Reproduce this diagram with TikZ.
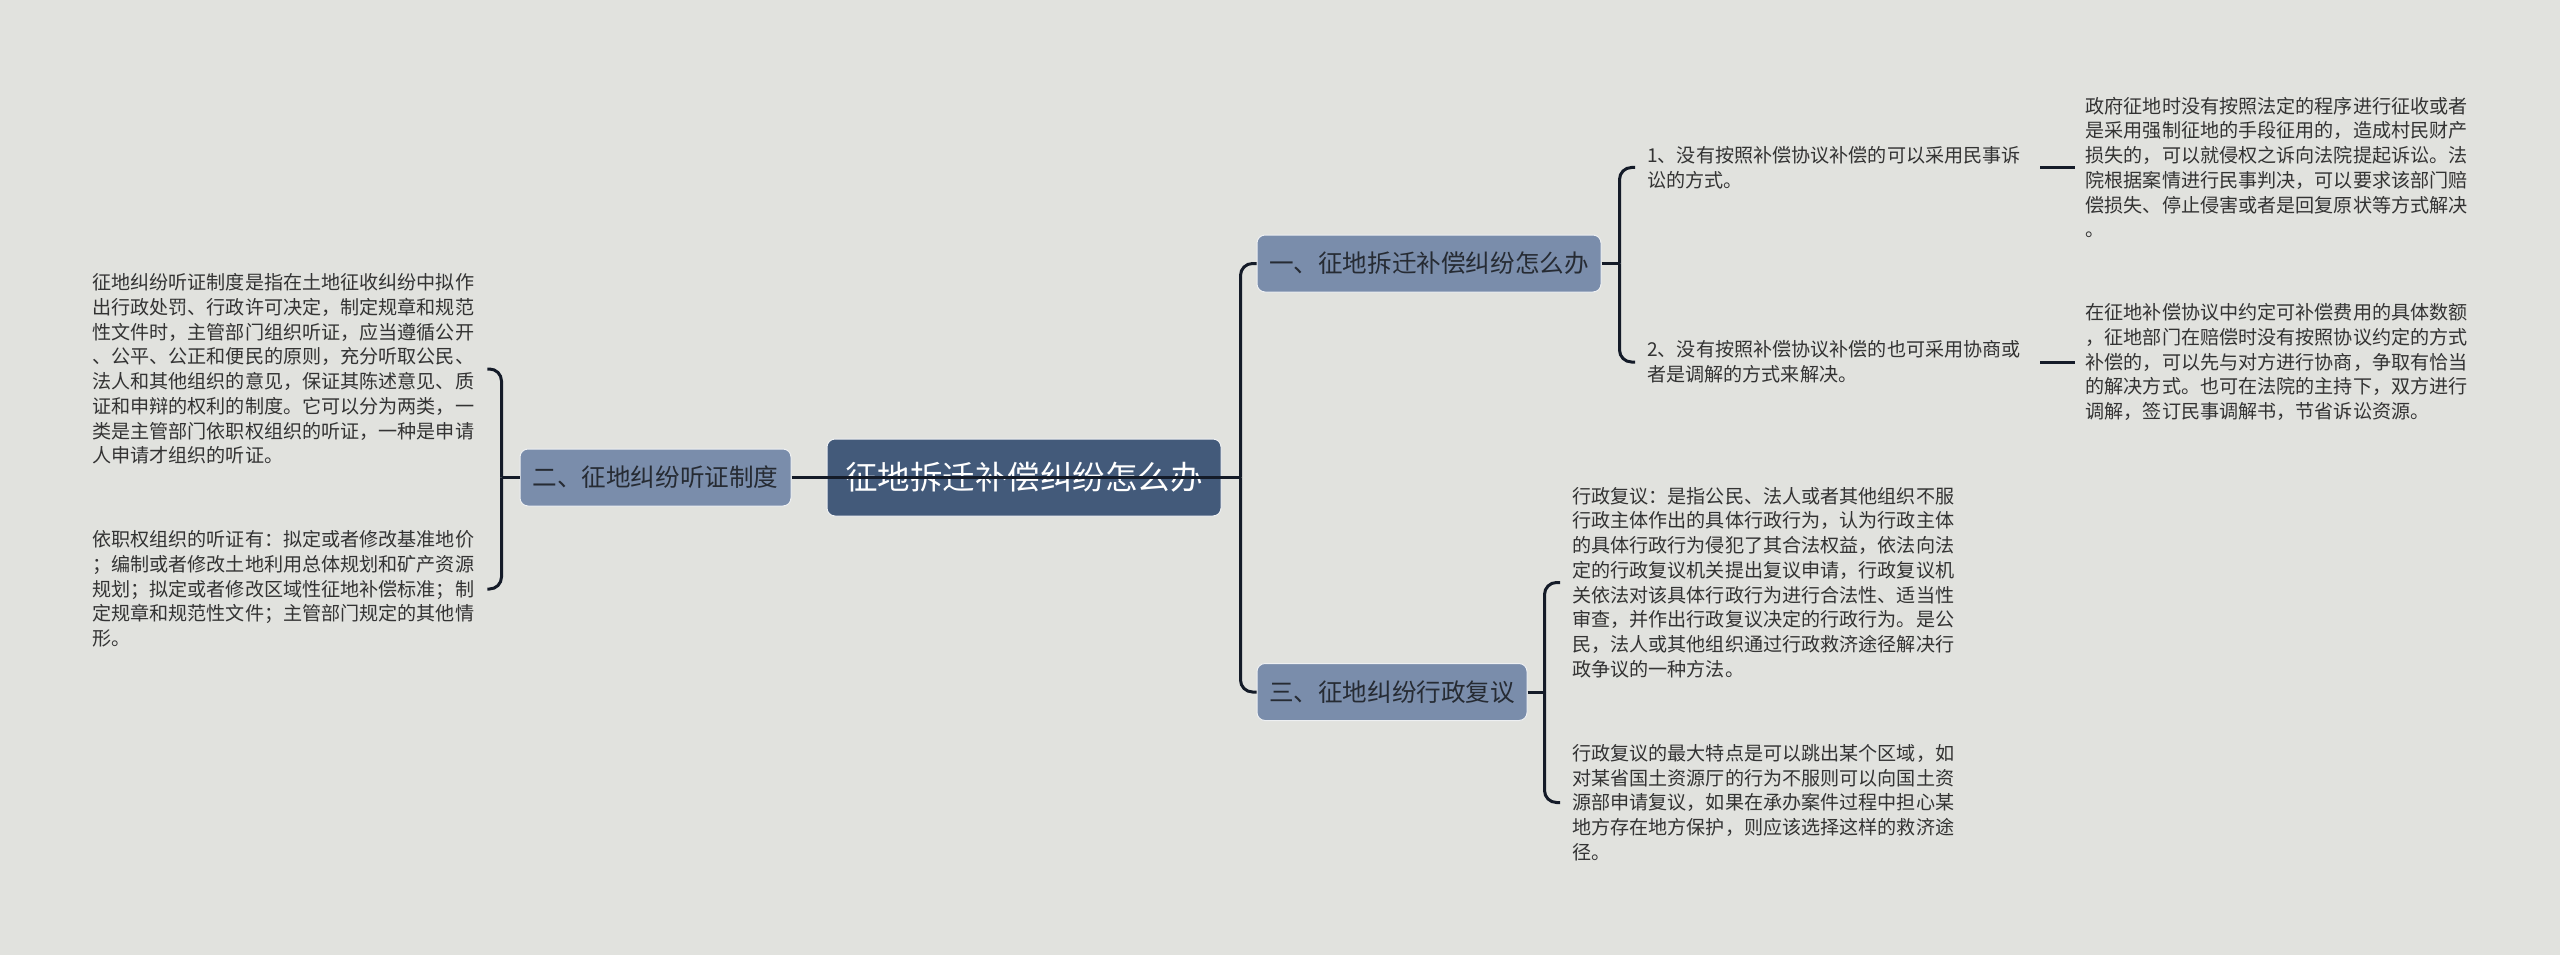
\documentclass[tikz,border=0pt]{standalone}
\usepackage{fontspec}
\newfontfamily\cjk{Noto Sans CJK SC}
\definecolor{bgc}{HTML}{E1E2DE}
\definecolor{rootc}{HTML}{435A7A}
\definecolor{subc}{HTML}{7A8DAB}
\definecolor{linec}{HTML}{141B28}
\definecolor{textc}{HTML}{333333}
\definecolor{subtext}{HTML}{262B33}
\definecolor{edgec}{HTML}{EEF0F2}
\tikzset{
  rootnode/.style={fill=rootc, draw=edgec, line width=1pt, rounded corners=8pt, inner sep=0pt,
    minimum width=394pt, minimum height=77pt, text=white,
    font=\cjk\fontsize{32.5pt}{36pt}\selectfont},
  subnode/.style={fill=subc, draw=edgec, line width=1pt, rounded corners=8pt, inner sep=0pt,
    minimum height=57pt, text=subtext, font=\cjk\fontsize{24.6pt}{28pt}\selectfont},
  txt/.style={anchor=west, inner sep=0pt, text width=385pt, align=left, text=textc,
    font=\cjk\fontsize{19.1pt}{24.7pt}\selectfont},
  conn/.style={draw=linec, line width=3pt, rounded corners=12pt}
}
\begin{document}
\begin{tikzpicture}[x=1pt,y=-1pt]
\fill[bgc] (0,0) rectangle (2560,955);
\useasboundingbox (0,0) rectangle (2560,955);

% nodes
\node[rootnode] (root) at (1024,477.5) {征地拆迁补偿纠纷怎么办};
\node[subnode, minimum width=271pt] (n2) at (655.5,477.5) {二、征地纠纷听证制度};
\node[subnode, minimum width=344pt] (n1) at (1429,263.5) {一、征地拆迁补偿纠纷怎么办};
\node[subnode, minimum width=270pt] (n3) at (1392,692) {三、征地纠纷行政复议};

% left texts
\node[txt] (t21) at (92,369) {征地纠纷听证制度是指在土地征收纠纷中拟作\\出行政处罚、行政许可决定，制定规章和规范\\性文件时，主管部门组织听证，应当遵循公开\\、公平、公正和便民的原则，充分听取公民、\\法人和其他组织的意见，保证其陈述意见、质\\证和申辩的权利的制度。它可以分为两类，一\\类是主管部门依职权组织的听证，一种是申请\\人申请才组织的听证。};
\node[txt] (t22) at (92,589) {依职权组织的听证有：拟定或者修改基准地价\\；编制或者修改土地利用总体规划和矿产资源\\规划；拟定或者修改区域性征地补偿标准；制\\定规章和规范性文件；主管部门规定的其他情\\形。};

% branch one texts
\node[txt] (t11) at (1647,167.5) {1、没有按照补偿协议补偿的可以采用民事诉\\讼的方式。};
\node[txt] (t12) at (1647,362) {2、没有按照补偿协议补偿的也可采用协商或\\者是调解的方式来解决。};
\node[txt] (d1) at ([xshift=53pt]t11.east) {政府征地时没有按照法定的程序进行征收或者\\是采用强制征地的手段征用的，造成村民财产\\损失的，可以就侵权之诉向法院提起诉讼。法\\院根据案情进行民事判决，可以要求该部门赔\\偿损失、停止侵害或者是回复原状等方式解决\\。};
\node[txt] (d2) at ([xshift=53pt]t12.east) {在征地补偿协议中约定可补偿费用的具体数额\\，征地部门在赔偿时没有按照协议约定的方式\\补偿的，可以先与对方进行协商，争取有恰当\\的解决方式。也可在法院的主持下，双方进行\\调解，签订民事调解书，节省诉讼资源。};

% branch three texts
\node[txt] (t31) at (1572,582.5) {行政复议：是指公民、法人或者其他组织不服\\行政主体作出的具体行政行为，认为行政主体\\的具体行政行为侵犯了其合法权益，依法向法\\定的行政复议机关提出复议申请，行政复议机\\关依法对该具体行政行为进行合法性、适当性\\审查，并作出行政复议决定的行政行为。是公\\民，法人或其他组织通过行政救济途径解决行\\政争议的一种方法。};
\node[txt] (t32) at (1572,802.5) {行政复议的最大特点是可以跳出某个区域，如\\对某省国土资源厅的行为不服则可以向国土资\\源部申请复议，如果在承办案件过程中担心某\\地方存在地方保护，则应该选择这样的救济途\\径。};

% connectors
\draw[conn] (n2.east) -- ([xshift=19pt]root.east);
\draw[conn] (n2.west) -- ([xshift=-18pt]n2.west);
\draw[conn] ([xshift=-18pt]n2.west) |- ([xshift=10pt]t21.east);
\draw[conn] ([xshift=-18pt]n2.west) |- ([xshift=10pt]t22.east);

\draw[conn] ([xshift=19pt]root.east) |- (n1.west);
\draw[conn] ([xshift=19pt]root.east) |- (n3.west);

\draw[conn] (n1.east) -- ([xshift=18pt]n1.east);
\draw[conn] ([xshift=18pt]n1.east) |- ([xshift=-12pt]t11.west);
\draw[conn] ([xshift=18pt]n1.east) |- ([xshift=-12pt]t12.west);

\draw[conn] (n3.east) -- ([xshift=17pt]n3.east);
\draw[conn] ([xshift=17pt]n3.east) |- ([xshift=-12pt]t31.west);
\draw[conn] ([xshift=17pt]n3.east) |- ([xshift=-12pt]t32.west);

\draw[conn] ([xshift=8pt]t11.east) -- ([xshift=-10pt]d1.west);
\draw[conn] ([xshift=8pt]t12.east) -- ([xshift=-10pt]d2.west);
\end{tikzpicture}
\end{document}
